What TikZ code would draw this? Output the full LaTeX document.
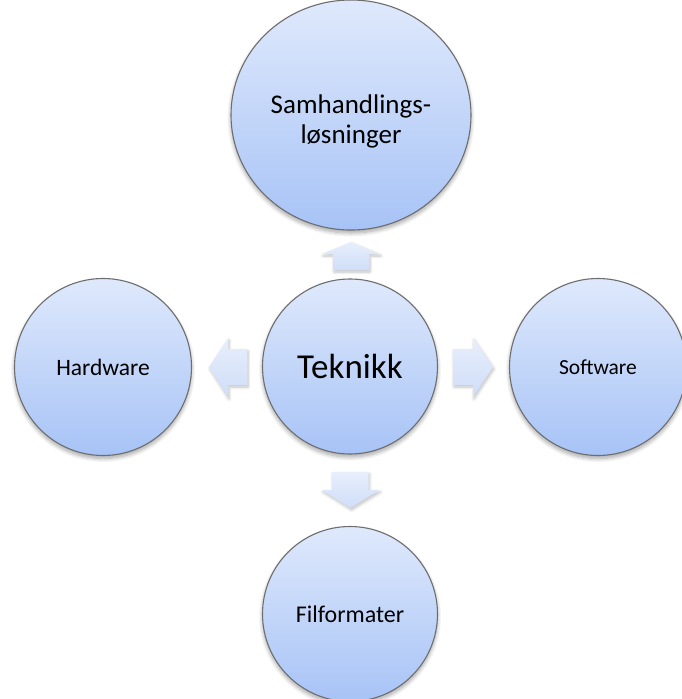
\documentclass[tikz,border=0pt]{standalone}
\usepackage{fontspec}
\setmainfont{Carlito}
\usetikzlibrary{shapes.geometric,shadows.blur}

\definecolor{bubbletop}{HTML}{DFE9FC}
\definecolor{bubblebot}{HTML}{A7C3F6}
\definecolor{bubbleline}{HTML}{6E6E6E}
\definecolor{arrowtop}{HTML}{E8EFFC}
\definecolor{arrowbot}{HTML}{CFDDF8}

\tikzset{
  bubble/.style={circle, draw=bubbleline, line width=1.1pt,
    top color=bubbletop, bottom color=bubblebot,
    inner sep=0pt, align=center, text=black,
    blur shadow={shadow xshift=0pt, shadow yshift=-3pt,
      shadow blur radius=4pt, shadow blur steps=8, shadow opacity=35}},
  blockarrow/.style={draw=none, top color=arrowtop, bottom color=arrowbot,
    blur shadow={shadow xshift=1pt, shadow yshift=-2pt,
      shadow blur radius=3pt, shadow blur steps=6, shadow opacity=25}},
}

\begin{document}
\begin{tikzpicture}[x=1pt, y=-1pt]
  \useasboundingbox (0,0) rectangle (681,699);

  % the five bubbles
  \node[bubble, ellipse, minimum width=240pt, minimum height=230pt,
        label={[align=center, yshift=-6pt,
                font=\fontsize{27}{30}\selectfont]center:Samhandlings-\\løsninger}]
        (top) at (351,115) {};
  \node[bubble, minimum size=175pt, font=\fontsize{35}{40}\selectfont]
        (mid) at (350,366.5) {Teknikk};
  \node[bubble, minimum size=177pt, font=\fontsize{23.5}{26}\selectfont]
        (left) at (103,367) {Hardware};
  \node[bubble, minimum size=177pt, font=\fontsize{21.5}{24}\selectfont]
        (right) at (598,367) {Software};
  \node[bubble, minimum size=175pt, font=\fontsize{24}{27}\selectfont]
        (bottom) at (350,614) {Filformater};

  % anchor points for the block arrows (base of shaft)
  \coordinate (upbase)    at (351,270);
  \coordinate (downbase)  at (350.5,472);
  \coordinate (leftbase)  at (247,367);
  \coordinate (rightbase) at (453,367);

  % up: towards Samhandlingslosninger
  \path[blockarrow] (upbase) ++(-18,0) -- ++(0,-16) -- ++(-11,0)
    -- ++(29,-12) -- ++(29,12) -- ++(-11,0) -- ++(0,16) -- cycle;
  % down: towards Filformater
  \path[blockarrow] (downbase) ++(-18.5,0) -- ++(0,18) -- ++(-10,0)
    -- ++(28.5,18) -- ++(29,-18) -- ++(-11,0) -- ++(0,-18) -- cycle;
  % left: towards Hardware
  \path[blockarrow] (leftbase) ++(0,-18) -- ++(-19,0) -- ++(0,-11)
    -- ++(-19,29) -- ++(19,30) -- ++(0,-12) -- ++(19,0) -- cycle;
  % right: towards Software
  \path[blockarrow] (rightbase) ++(0,-18) -- ++(20,0) -- ++(0,-11)
    -- ++(20,29) -- ++(-20,30) -- ++(0,-12) -- ++(-20,0) -- cycle;
\end{tikzpicture}
\end{document}
